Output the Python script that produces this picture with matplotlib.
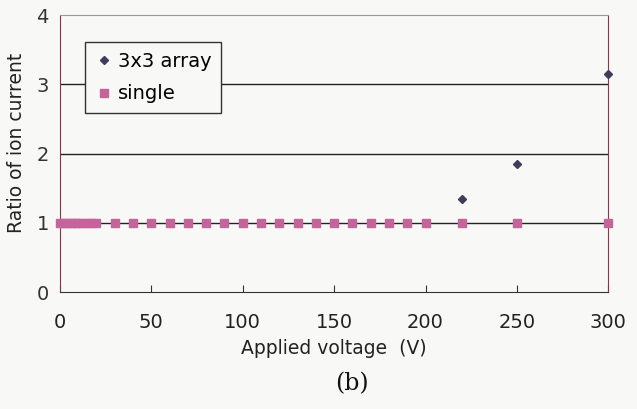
import matplotlib.pyplot as plt

# data
voltage = [0, 2, 4, 6, 8, 10, 12, 15, 17, 20, 30, 40, 50, 60, 70, 80, 90, 100,
           110, 120, 130, 140, 150, 160, 170, 180, 190, 200, 220, 250, 300]
array_ratio = [1.0] * 28 + [1.35, 1.85, 3.15]
single_ratio = [1.0] * 31

fig = plt.figure(figsize=(6.37, 4.09), dpi=100)
fig.patch.set_facecolor('#f8f8f6')
ax = fig.add_axes([0.094, 0.286, 0.861, 0.677])
ax.set_facecolor('#f8f8f6')

ax.plot(voltage, array_ratio, 'D', color='#3e3d5c', markersize=4.5, label='3x3 array',
        clip_on=False, zorder=3)
ax.plot(voltage, single_ratio, 's', color='#c4649a', markersize=6.3, label='single',
        clip_on=False, zorder=4)

ax.set_xlim(0, 300)
ax.set_ylim(0, 4)
ax.set_xticks([0, 50, 100, 150, 200, 250, 300])
ax.set_yticks([0, 1, 2, 3, 4])
for y in [1, 2, 3]:
    ax.axhline(y, color='#222222', linewidth=1.0, zorder=1)

ax.spines['top'].set_color('#999999')
ax.spines['top'].set_linestyle((0, (2, 1)))
ax.spines['right'].set_color('#8a3550')
ax.spines['left'].set_color('#8a3550')
ax.spines['bottom'].set_color('#333333')
ax.tick_params(axis='x', direction='in', length=5, labelsize=14, pad=15, colors='#333333')
ax.tick_params(axis='y', length=0, labelsize=14, pad=8, colors='#333333')
ax.tick_params(axis='x', labelcolor='#222222')

ax.set_xlabel('Applied voltage  (V)', fontsize=13.5, labelpad=5, color='#222222')
ax.set_ylabel('Ratio of ion current', fontsize=13.5, color='#222222')
ax.yaxis.set_label_coords(-0.062, 0.54)

leg = ax.legend(loc='upper left', bbox_to_anchor=(0.028, 0.938), fontsize=14,
                handletextpad=0.2, handlelength=1.0, borderpad=0.5, labelspacing=0.7,
                fancybox=False, framealpha=1, facecolor='#f8f8f6',
                edgecolor='#333333', markerscale=0.9)

fig.text(0.553, 0.061, '(b)', fontsize=17, family='DejaVu Serif', ha='center',
         va='center', color='#111111')

fig.savefig('out.png', dpi=100, facecolor=fig.get_facecolor())
